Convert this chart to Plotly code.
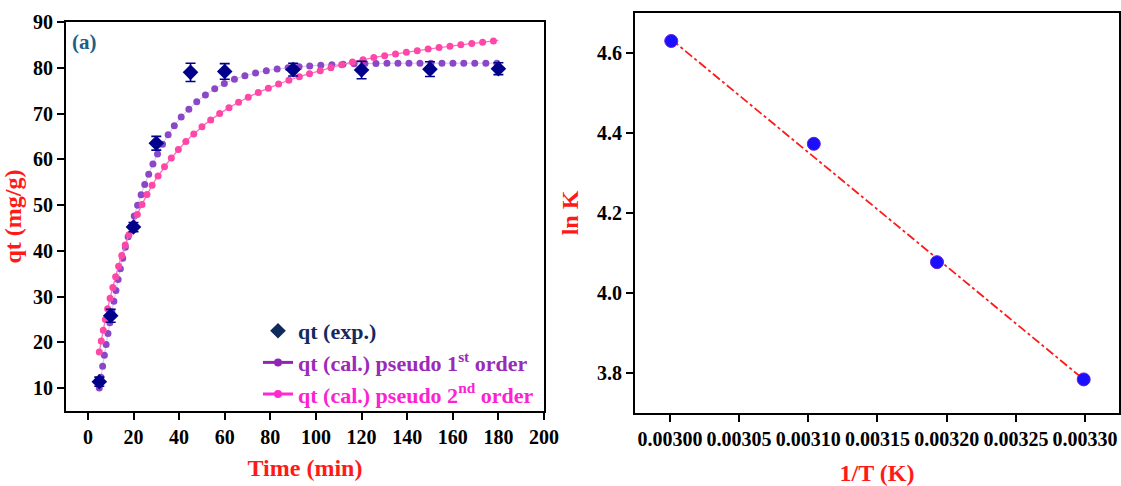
import plotly.graph_objects as go

# ---------------- data ----------------
t_exp = [5, 10, 20, 30, 45, 60, 90, 120, 150, 180]
q_exp = [11.4, 25.8, 45.2, 63.5, 79.0, 79.2, 79.6, 79.5, 79.7, 79.8]
q_err = [1.0, 1.4, 1.0, 1.5, 2.0, 1.7, 1.4, 1.9, 1.6, 1.3]

t_pfo = [5, 7.5, 10, 12.5, 15, 17.5, 20, 25, 30, 35, 40, 45, 50, 60, 70, 80, 90, 100, 120, 140, 160, 180]
q_pfo = [10.0, 18.0, 25.3, 31.8, 37.8, 42.8, 47.1, 54.6, 60.6, 65.2, 68.7, 71.3, 73.5, 76.6, 78.4, 79.5,
         80.1, 80.5, 80.9, 81.0, 81.0, 81.0]

t_pso = [5, 7.5, 10, 15, 20, 25, 30, 40, 50, 60, 70, 80, 90, 100, 120, 140, 160, 180]
q_pso = [17.9, 24.6, 30.2, 39.2, 46.0, 51.4, 55.8, 62.3, 67.1, 70.7, 73.5, 75.7, 77.6, 79.1, 81.7,
         83.4, 84.8, 86.0]

inv_T = [0.003001, 0.003104, 0.003193, 0.003299]
ln_K = [4.630, 4.373, 4.077, 3.784]
fit_x = [0.003001, 0.003299]
fit_y = [4.634, 3.784]

x_ticks_left = [0, 20, 40, 60, 80, 100, 120, 140, 160, 180, 200]
y_ticks_left = [10, 20, 30, 40, 50, 60, 70, 80, 90]
x_ticks_right = [0.00300, 0.00305, 0.00310, 0.00315, 0.00320, 0.00325, 0.00330]
y_ticks_right = [3.8, 4.0, 4.2, 4.4, 4.6]

# ---------------- styling ----------------
W, H = 1121, 486
SERIF = "Liberation Serif, Times New Roman, serif"
NAVY = "#00008B"
PURPLE_DOT = "#8a48c8"
PINK_DOT = "#ff47a8"
RED = "#ff1a1a"

fig = go.Figure()

# pseudo 1st order: faint connecting line + round dots
fig.add_trace(go.Scatter(x=t_pfo, y=q_pfo, mode="lines", line=dict(color="#d9c2f0", width=1, shape="spline"),
                         showlegend=False, hoverinfo="skip", xaxis="x", yaxis="y"))
fig.add_trace(go.Scatter(x=t_pfo, y=q_pfo, mode="lines",
                         line=dict(color=PURPLE_DOT, width=7, shape="spline", dash="0px,11px"),
                         showlegend=False, xaxis="x", yaxis="y"))
# pseudo 2nd order
fig.add_trace(go.Scatter(x=t_pso, y=q_pso, mode="lines", line=dict(color="#ff6fbf", width=1.3, shape="spline"),
                         showlegend=False, hoverinfo="skip", xaxis="x", yaxis="y"))
fig.add_trace(go.Scatter(x=t_pso, y=q_pso, mode="lines",
                         line=dict(color=PINK_DOT, width=7, shape="spline", dash="0px,11px"),
                         showlegend=False, xaxis="x", yaxis="y"))
# experimental
fig.add_trace(go.Scatter(x=t_exp, y=q_exp, mode="markers",
                         marker=dict(symbol="diamond", size=12, color=NAVY),
                         error_y=dict(type="data", array=q_err, color=NAVY, thickness=1.6, width=5),
                         showlegend=False, xaxis="x", yaxis="y"))

# legend entries
fig.add_trace(go.Scatter(x=[None], y=[None], mode="markers",
                         marker=dict(symbol="diamond", size=12, color="#0f2a5c"),
                         name='<span style="color:#14295e">qt (exp.)</span>', xaxis="x", yaxis="y"))
fig.add_trace(go.Scatter(x=[None], y=[None], mode="lines+markers",
                         line=dict(color="#9126b4", width=3), marker=dict(size=8, color="#9126b4"),
                         name='<span style="color:#9a2ab8">qt (cal.) pseudo 1<sup>st</sup> order</span>',
                         xaxis="x", yaxis="y"))
fig.add_trace(go.Scatter(x=[None], y=[None], mode="lines+markers",
                         line=dict(color="#ff2ad0", width=3), marker=dict(size=8, color="#ff2ad0"),
                         name='<span style="color:#fb22d2">qt (cal.) pseudo 2<sup>nd</sup> order</span>',
                         xaxis="x", yaxis="y"))

# right panel
fig.add_trace(go.Scatter(x=fit_x, y=fit_y, mode="lines", line=dict(color=RED, width=1.8, dash="dashdot"),
                         showlegend=False, xaxis="x2", yaxis="y2"))
fig.add_trace(go.Scatter(x=inv_T, y=ln_K, mode="markers",
                         marker=dict(symbol="circle", size=13, color="#1a10ff",
                                     line=dict(color="#6a1fd0", width=1)),
                         showlegend=False, xaxis="x2", yaxis="y2"))

axis_common = dict(showline=True, linecolor="black", linewidth=2, mirror=True, ticks="outside",
                   ticklen=7, tickwidth=1.8, tickcolor="black", showgrid=False, zeroline=False,
                   automargin=False,
                   tickfont=dict(family=SERIF, size=20, color="black", weight="bold"))
title_font = dict(family=SERIF, size=24, color=RED, weight="bold")

fig.update_layout(
    template="none",
    width=W, height=H,
    margin=dict(l=0, r=0, t=0, b=0, autoexpand=False),
    paper_bgcolor="white", plot_bgcolor="white",
    xaxis=dict(domain=[66 / W, 544 / W], range=[-9.6, 200], tickvals=x_ticks_left,
               title=dict(text="Time (min)", font=title_font, standoff=12), anchor="y", **axis_common),
    yaxis=dict(domain=[75 / H, 464 / H], range=[5, 90], tickvals=y_ticks_left,
               title=dict(text="qt (mg/g)", font=title_font, standoff=6), anchor="x", **axis_common),
    xaxis2=dict(domain=[635 / W, 1119 / W], range=[0.0029748, 0.0033245], tickvals=x_ticks_right,
                tickformat=".5f",
                title=dict(text="1/T (K)", font=title_font, standoff=18), anchor="y2", **axis_common),
    yaxis2=dict(domain=[73 / H, 473 / H], range=[3.7, 4.7], tickvals=y_ticks_right, tickformat=".1f",
                title=dict(text="ln K", font=title_font, standoff=12), anchor="x2", **axis_common),
    legend=dict(x=258 / W, y=(486 - 310) / H, xanchor="left", yanchor="top", bgcolor="rgba(0,0,0,0)",
                font=dict(family=SERIF, size=22, weight="bold"), tracegroupgap=0),
    annotations=[dict(text="(a)", xref="paper", yref="paper", x=70 / W, y=(486 - 42) / H,
                      xanchor="left", yanchor="middle", showarrow=False,
                      font=dict(family=SERIF, size=21, color="#1d5e86", weight="bold"))],
)

post_js = """
document.body.style.margin = '0';
document.body.style.padding = '0';
var gd = document.getElementById('{plot_id}');
function roundCaps(){
  gd.querySelectorAll('path.js-line').forEach(function(p){
    var d = p.style.strokeDasharray || '';
    if (d.indexOf('0px') === 0 || d.indexOf('0,') === 0 || d.indexOf('0 ') === 0) {
      p.style.strokeLinecap = 'round';
    }
  });
}
roundCaps();
setTimeout(roundCaps, 30);
if (gd.on) { gd.on('plotly_afterplot', roundCaps); }
"""

fig.write_html("out.html", post_script=post_js, config={"displayModeBar": False})
